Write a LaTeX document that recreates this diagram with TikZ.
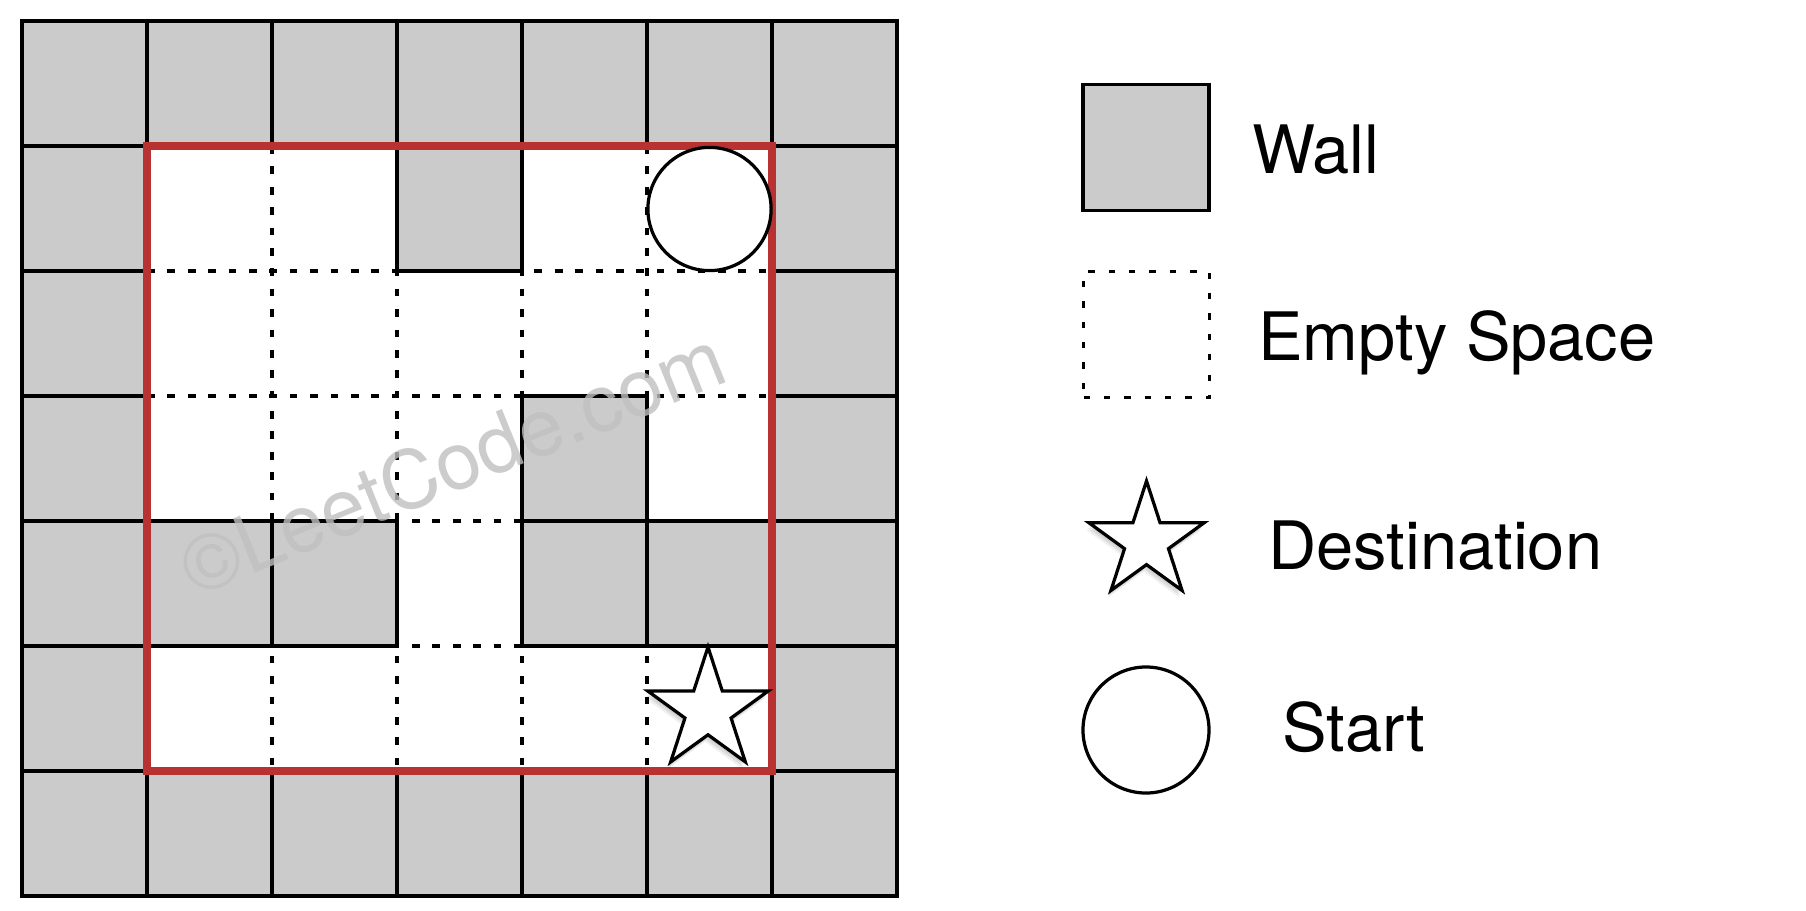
\documentclass[tikz,border=0pt]{standalone}
\usepackage{fontspec}
\setmainfont{TeX Gyre Heros}
\definecolor{wallgray}{RGB}{203,203,203}
\definecolor{mazered}{RGB}{184,50,50}
\definecolor{wmgray}{RGB}{192,192,192}
\tikzset{
  pics/destar/.style={code={
    \def\ro{#1}
    \pgfmathsetmacro\ri{0.382*#1}
    \foreach \dx/\dy/\op in {-1/3/0.06,-2/5/0.08,-3/7/0.06}{
      \fill[black,opacity=\op,shift={(\dx,\dy)}] (270:\ro)
        \foreach \k in {0,...,4} { -- ({306+72*\k}:\ri) -- ({342+72*\k}:\ro) } -- cycle;
    }
    \draw[marker] (270:\ro)
      \foreach \k in {0,...,4} { -- ({306+72*\k}:\ri) -- ({342+72*\k}:\ro) } -- cycle;
  }}
}
\begin{document}
\begin{tikzpicture}[x=0.025cm,y=-0.025cm,
  wall/.style={fill=wallgray,draw=black,line width=2.6pt},
  emptyline/.style={draw=black,line width=2.3pt,dash pattern=on 5.5pt off 9pt},
  legdots/.style={draw=black,line width=2.5pt,dash pattern=on 4.5pt off 10pt},
  redbox/.style={draw=mazered,line width=5.4pt},
  marker/.style={draw=black,fill=white,line width=2.3pt},
  lbl/.style={anchor=base west,font=\fontsize{47.5}{56}\selectfont,inner sep=0pt},
  watermark/.style={text=wmgray,opacity=0.8,font=\fontsize{57}{60}\selectfont,rotate=22,inner sep=0pt}
]
\useasboundingbox (0,0) rectangle (1806,910);
\fill[white] (0,0) rectangle (1806,910);

% dashed lines between empty cells
\foreach \v in {272,397,522,647} {
  \draw[emptyline] (\v,146) -- (\v,771);
}
\foreach \h in {271,396,521,646} {
  \draw[emptyline] (147,\h) -- (772,\h);
}

% border walls
\foreach \c in {0,...,6} {
  \path[wall] ({22+125*\c},21) rectangle ++(125,125);
  \path[wall] ({22+125*\c},771) rectangle ++(125,125);
}
\foreach \r in {1,...,5} {
  \path[wall] (22,{21+125*\r}) rectangle ++(125,125);
  \path[wall] (772,{21+125*\r}) rectangle ++(125,125);
}
% inner walls (row/column)
\foreach \r/\c in {1/3,3/4,4/1,4/2,4/4,4/5} {
  \path[wall] ({22+125*\c},{21+125*\r}) rectangle ++(125,125);
}

% red boundary
\draw[redbox] (147,146) rectangle (772,771);

% watermark
\node[watermark] (wm) at (452,462) {©LeetCode.com};

% start and destination
\node[marker,circle,minimum size=3.08cm,inner sep=0pt] (start) at (709.5,209) {};
\pic (dest) at (708,710.5) {destar=63.5};

% legend
\node[wall,minimum size=3.15cm,inner sep=0pt] (legwall) at (1146,147.5) {};
\node[legdots,minimum size=3.15cm,inner sep=0pt] (legempty) at (1146.5,334.5) {};
\pic (legdest) at (1146.5,541.5) {destar=60.5};
\node[marker,circle,minimum size=3.15cm,inner sep=0pt] (legstart) at (1146,730) {};

\node[lbl] (twall) at (1252,173) {Wall};
\node[lbl] (tempty) at (1258,360) {Empty Space};
\node[lbl] (tdest) at (1268,569) {Destination};
\node[lbl] (tstart) at (1282,751) {Start};
\end{tikzpicture}
\end{document}
